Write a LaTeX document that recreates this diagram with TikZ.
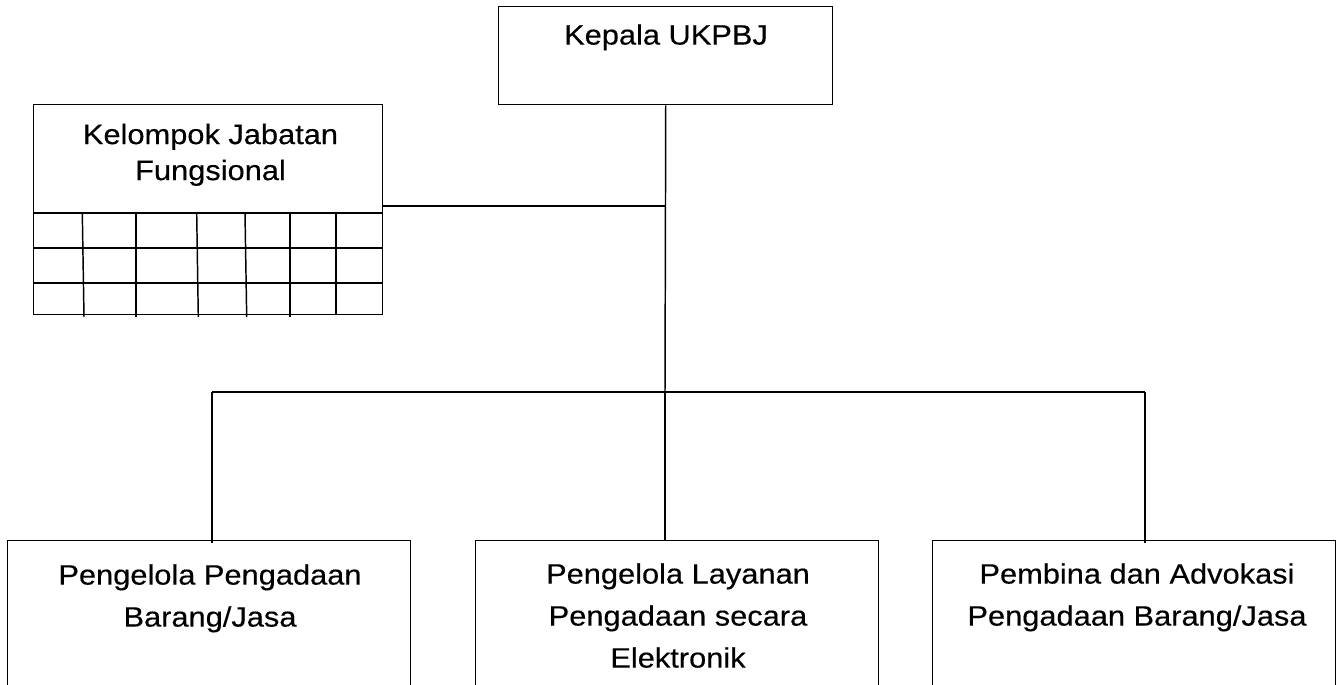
\documentclass[tikz,border=0pt]{standalone}
\usepackage{fontspec}
\setmainfont{Liberation Sans}[FakeStretch=1.1,FakeBold=0.3]
\begin{document}
\begin{tikzpicture}[x=0.75pt,y=-0.75pt,
  box/.style={draw,line width=1.1pt,rectangle,inner sep=0pt,anchor=north west},
  lbl/.style={anchor=north,inner sep=0pt,align=center,font=\fontsize{21pt}{27pt}\selectfont},
  lblw/.style={anchor=north,inner sep=0pt,align=center,font=\fontsize{21pt}{31.5pt}\selectfont},
  conn/.style={line width=1.1pt},
  gridln/.style={line width=1.1pt}]
\useasboundingbox (0,0) rectangle (1339,685);
\clip (0,0) rectangle (1339,685);
% boxes
\node[box,minimum width=334*0.75pt,minimum height=98*0.75pt] (kepala) at (498,6) {};
\node[box,minimum width=349*0.75pt,minimum height=210*0.75pt] (kjf) at (33,104) {};
\node[box,minimum width=403*0.75pt,minimum height=160*0.75pt] (b1) at (7,540) {};
\node[box,minimum width=403*0.75pt,minimum height=160*0.75pt] (b2) at (475,540) {};
\node[box,minimum width=403*0.75pt,minimum height=160*0.75pt] (b3) at (932,540) {};
% labels
\node[lbl] (tkepala) at (666,24) {Kepala UKPBJ};
\node[lbl] (tkjf) at (210.5,123.5) {Kelompok Jabatan\\Fungsional};
\node[lblw] (tb1) at (210,564) {Pengelola Pengadaan\\Barang/Jasa};
\node[lblw] (tb2) at (678,563) {Pengelola Layanan\\Pengadaan secara\\Elektronik};
\node[lblw] (tb3) at (1137,563) {Pembina dan Advokasi\\Pengadaan Barang/Jasa};
% grid inside Kelompok box
\draw[gridln] (33,213) -- (382,213);
\draw[gridln] (33,248) -- (382,248);
\draw[gridln] (33,283) -- (382,283);
\draw[gridln] (82.3,213) -- (84,317);
\draw[gridln] (136,213) -- (136,317);
\draw[gridln] (196.7,213) -- (198.3,317);
\draw[gridln] (245,213) -- (246.7,317);
\draw[gridln] (290,213) -- (290,317);
\draw[gridln] (336,213) -- (336,314);
% connectors
\coordinate (j1) at (665,206);
\coordinate (bus) at (665,392);
\coordinate (t1) at (212,392);
\coordinate (t3) at (1145,392);
\draw[conn] (kepala.south) -- (bus);
\draw[conn] (kjf.east |- j1) -- (j1);
\draw[conn] (t1) -- (t3);
\draw[conn] (t1) -- ([yshift=-3*0.75pt]t1 |- b1.north);
\draw[conn] (bus) -- (bus |- b2.north);
\draw[conn] (t3) -- ([yshift=-3*0.75pt]t3 |- b3.north);
\end{tikzpicture}
\end{document}
